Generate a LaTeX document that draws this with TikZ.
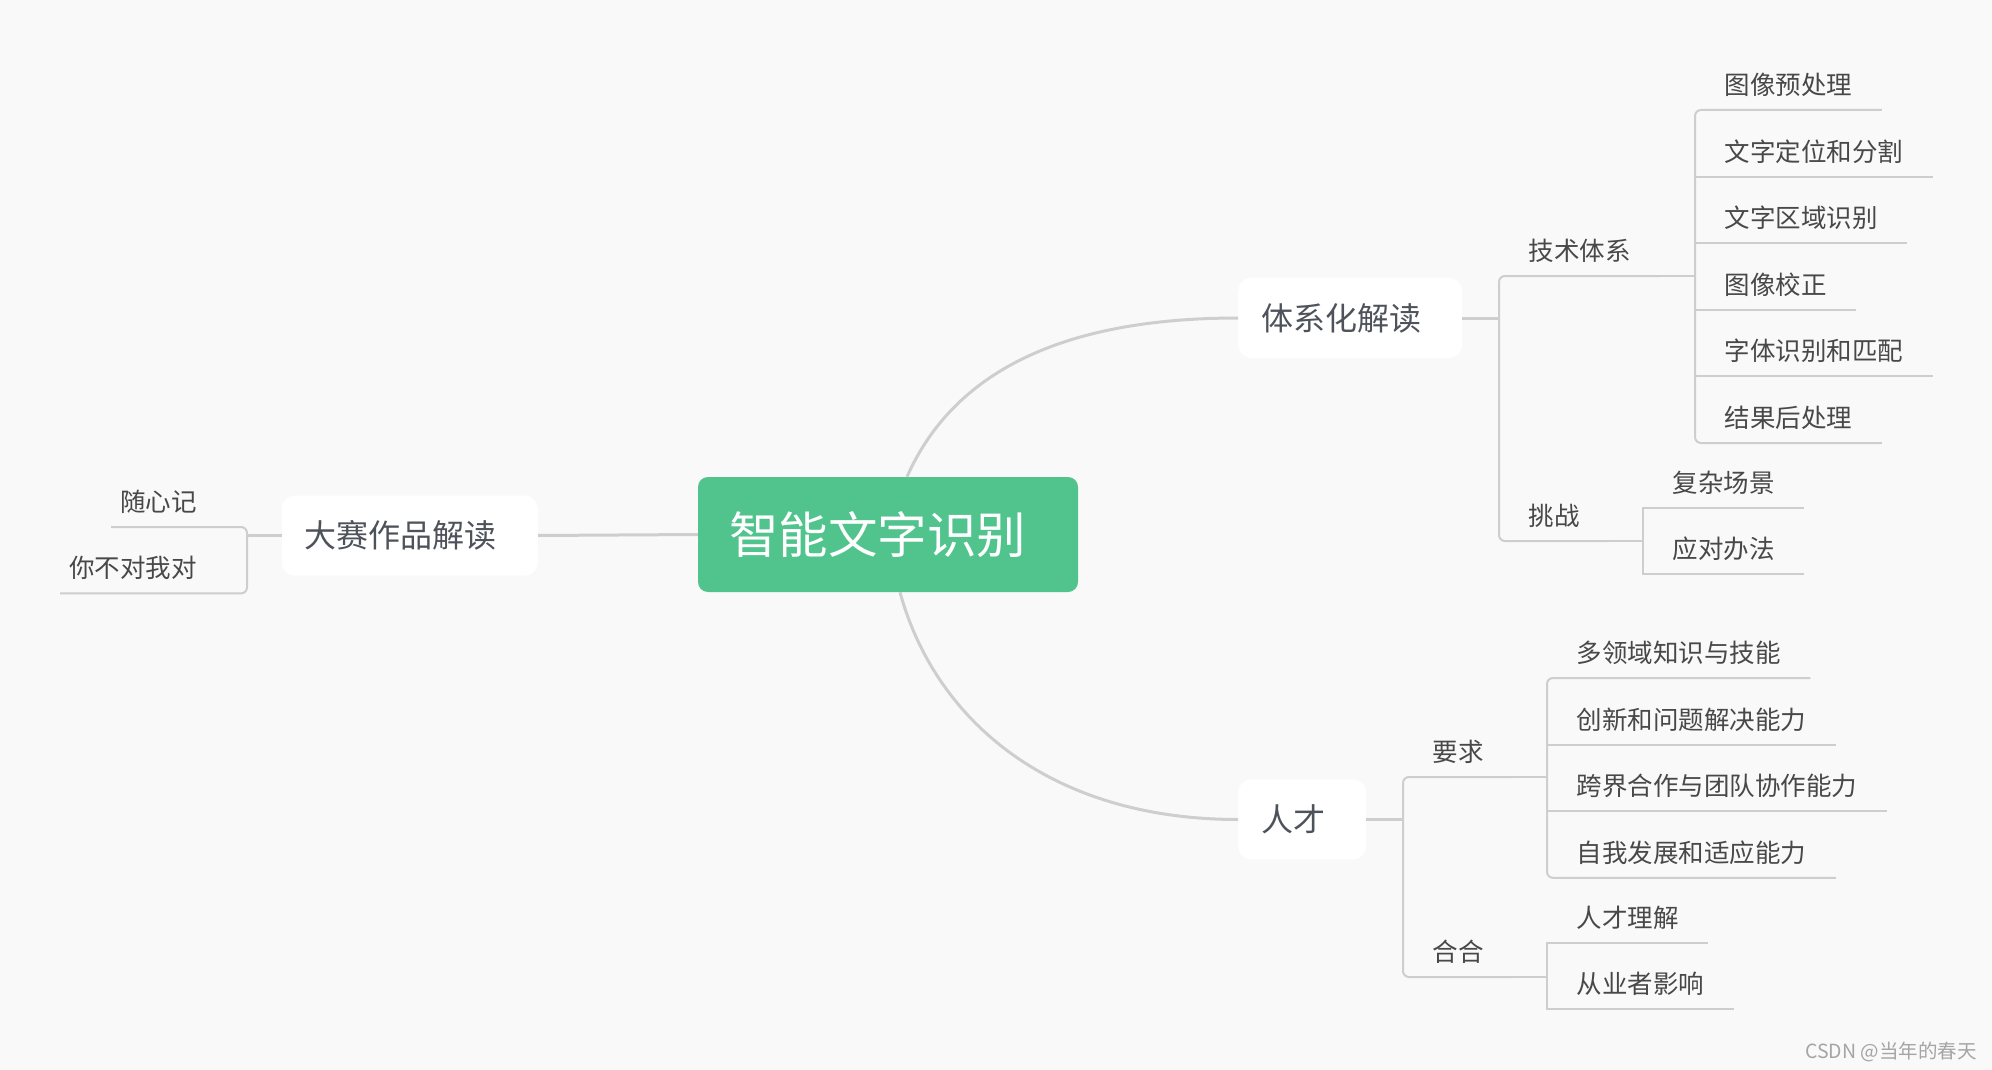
\documentclass[tikz,border=0pt]{standalone}
\usepackage{fontspec}
\usepackage{tikz}
\usetikzlibrary{positioning}
\setmainfont{Noto Sans CJK SC}
\definecolor{rootgreen}{RGB}{81,196,141}
\definecolor{bggray}{RGB}{249,249,249}
\definecolor{linegray}{RGB}{206,206,206}
\definecolor{boxtext}{RGB}{78,83,91}
\definecolor{leaftext}{RGB}{72,72,72}
\definecolor{marktext}{RGB}{165,165,165}

\begin{document}
\begin{tikzpicture}[x=1pt,y=-1pt,node distance=16.2pt,
    rootbox/.style={fill=rootgreen,rounded corners=10pt,text=white,
                    font=\fontsize{49.5pt}{50pt}\selectfont,
                    minimum height=115pt,inner xsep=31pt,inner ysep=0pt,
                    text height=41pt,text depth=3.4pt,
                    execute at end node={\hspace{21pt}}},
    topic/.style={fill=white,rounded corners=13pt,text=boxtext,
                  font=\fontsize{32pt}{33pt}\selectfont,
                  minimum height=80pt,inner xsep=23pt,inner ysep=0pt,
                  text height=26.5pt,text depth=2.1pt,
                  execute at end node={\hspace{18pt}}},
    leaf/.style={text=leaftext,font=\fontsize{25.5pt}{26pt}\selectfont,
                 minimum height=50pt,inner xsep=29.5pt,inner ysep=0pt,
                 text height=21pt,text depth=1.6pt,anchor=south west},
    leftleaf/.style={leaf,anchor=south east,inner xsep=9pt,
                     execute at end node={\hspace{41pt}}},
    curve/.style={draw=linegray,line width=3pt},
    bracket/.style={draw=linegray,line width=2pt,rounded corners=6pt}]
  \useasboundingbox (0,0) rectangle (1992,1070);
  \fill[bggray] (0,0) rectangle (1992,1070);

  % main topics
  \node[rootbox] (root) at (888,534.5) {智能文字识别};
  \node[topic,anchor=west] (sys) at (1238,318) {体系化解读};
  \node[topic,anchor=west] (talent) at (1238,819.5) {人才};
  \node[topic,anchor=east] (contest) at (538,535.5) {大赛作品解读};

  % second level
  \node[leaf] (tech) at (1499,276) {技术体系};
  \node[leaf] (chal) at (1499,541) {挑战};
  \node[leaf] (req) at (1403,777) {要求};
  \node[leaf] (fit) at (1403,977) {合合};

  % leaves
  \node[leaf] (tech1) at (1695,110) {图像预处理};
  \node[leaf,below=of tech1.south west,anchor=north west] (tech2) {文字定位和分割};
  \node[leaf,below=of tech2.south west,anchor=north west] (tech3) {文字区域识别};
  \node[leaf,below=of tech3.south west,anchor=north west] (tech4) {图像校正};
  \node[leaf,below=of tech4.south west,anchor=north west] (tech5) {字体识别和匹配};
  \node[leaf,below=of tech5.south west,anchor=north west] (tech6) {结果后处理};

  \node[leaf] (chal1) at (1643,508) {复杂场景};
  \node[leaf,below=16pt of chal1.south west,anchor=north west] (chal2) {应对办法};

  \node[leaf] (req1) at (1547,678) {多领域知识与技能};
  \node[leaf,below=of req1.south west,anchor=north west] (req2) {创新和问题解决能力};
  \node[leaf,below=of req2.south west,anchor=north west] (req3) {跨界合作与团队协作能力};
  \node[leaf,below=of req3.south west,anchor=north west] (req4) {自我发展和适应能力};

  \node[leaf] (fit1) at (1547,943) {人才理解};
  \node[leaf,below=16pt of fit1.south west,anchor=north west] (fit2) {从业者影响};

  \node[leftleaf] (note1) at (247,527) {随心记};
  \node[leftleaf,below=16pt of note1.south east,anchor=north east] (note2) {你不对我对};

  \node[text=marktext,font=\fontsize{19.5pt}{20pt}\selectfont,inner sep=0pt,
        anchor=east] (mark) at (1977,1052) {CSDN @当年的春天};

  % connectors
  \draw[curve] ([xshift=19pt]root.north) .. controls +(43,-97) and +(-188,0) .. (sys.west);
  \draw[curve] ([xshift=12pt]root.south) .. controls +(35,128) and +(-188,0) .. (talent.west);
  \draw[curve] (root.west) -- (contest.east);
  \draw[curve] (sys.east) -- (sys.east -| tech.south west);
  \draw[curve] (talent.east) -- (talent.east -| req.south west);
  \draw[curve] (contest.west) -- (contest.west -| note1.south east);

  \draw[bracket] (tech.south east) -- (tech.south west) -- (chal.south west) -- (chal.south east);
  \draw[bracket] (req.south east) -- (req.south west) -- (fit.south west) -- (fit.south east);
  \draw[bracket] (note1.south west) -- (note1.south east) -- (note2.south east) -- (note2.south west);

  \draw[bracket] (tech1.south east) -- (tech1.south west) -- (tech6.south west) -- (tech6.south east);
  \draw[bracket] (req1.south east) -- (req1.south west) -- (req4.south west) -- (req4.south east);
  \draw[bracket,sharp corners] (chal1.south east) -- (chal1.south west) -- (chal2.south west) -- (chal2.south east);
  \draw[bracket,sharp corners] (fit1.south east) -- (fit1.south west) -- (fit2.south west) -- (fit2.south east);
  \foreach \n in {tech2,tech3,tech4,tech5,req2,req3}
    \draw[bracket] (\n.south west) -- (\n.south east);

  \draw[bracket] (tech.south east) -- (tech.south east -| tech1.south west);
  \draw[bracket] (chal.south east) -- (chal.south east -| chal1.south west);
  \draw[bracket] (req.south east) -- (req.south east -| req1.south west);
  \draw[bracket] (fit.south east) -- (fit.south east -| fit1.south west);
\end{tikzpicture}
\end{document}
